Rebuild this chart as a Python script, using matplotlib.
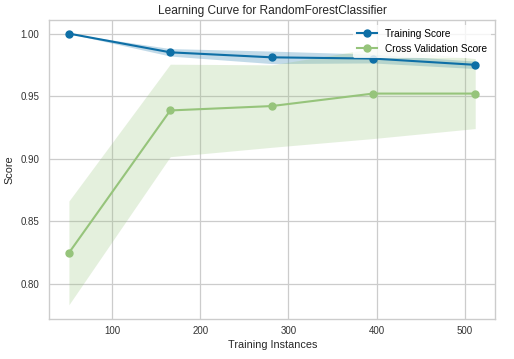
"""
Learning curve for a RandomForestClassifier (yellowbrick-style chart)
"""

import numpy as np
import matplotlib
matplotlib.use("Agg")
import matplotlib.pyplot as plt

# values
train_sizes = [51, 166, 281, 396, 512]
train_mean = [1.000, 0.985, 0.981, 0.980, 0.975]
train_std = [0.000, 0.003, 0.005, 0.0035, 0.003]
cv_mean = [0.8245, 0.9385, 0.942, 0.952, 0.952]
cv_std = [0.0415, 0.037, 0.033, 0.036, 0.028]

TRAIN_COLOR = "#0e6fa6"
CV_COLOR = "#96c47b"

plt.rcParams['font.family'] = ['Liberation Sans', 'DejaVu Sans']

fig, ax = plt.subplots(figsize=(5.14, 3.59), dpi=100)
fig.subplots_adjust(left=0.0953, right=0.964, top=0.943, bottom=0.111)

sizes = np.array(train_sizes)
tr = np.array(train_mean)
trs = np.array(train_std)
cv = np.array(cv_mean)
cvs = np.array(cv_std)

ax.fill_between(sizes, tr - trs, tr + trs, color=TRAIN_COLOR, alpha=0.25, lw=0)
ax.fill_between(sizes, cv - cvs, cv + cvs, color=CV_COLOR, alpha=0.25, lw=0)
ax.plot(sizes, tr, 'o-', color=TRAIN_COLOR, lw=1.5, ms=5, label='Training Score')
ax.plot(sizes, cv, 'o-', color=CV_COLOR, lw=1.5, ms=5, label='Cross Validation Score')

ax.set_xlim(28.4, 535)
ax.set_ylim(0.7715, 1.0105)
ax.set_xticks([100, 200, 300, 400, 500])
ax.set_yticks([0.80, 0.85, 0.90, 0.95, 1.00])
ax.set_yticklabels(['0.80', '0.85', '0.90', '0.95', '1.00'])

ax.grid(True, color='#cccccc', lw=0.9)
ax.set_axisbelow(True)
for s in ax.spines.values():
    s.set_color('#cccccc')
    s.set_linewidth(1.0)
ax.tick_params(length=0, labelsize=7, colors='#333333')
ax.tick_params(axis='y', pad=7)
ax.tick_params(axis='x', pad=5)

ax.set_title('Learning Curve for RandomForestClassifier', fontsize=8.6,
             color='#262626', pad=5)
ax.set_xlabel('Training Instances', fontsize=7.8, color='#262626', labelpad=3)
ax.set_ylabel('Score', fontsize=7.8, color='#262626', labelpad=4)

leg = ax.legend(loc='upper right', fontsize=7.3, frameon=True, framealpha=0.8,
                edgecolor='none', borderaxespad=0.4)

plt.savefig('out.png', dpi=100)
plt.close()
